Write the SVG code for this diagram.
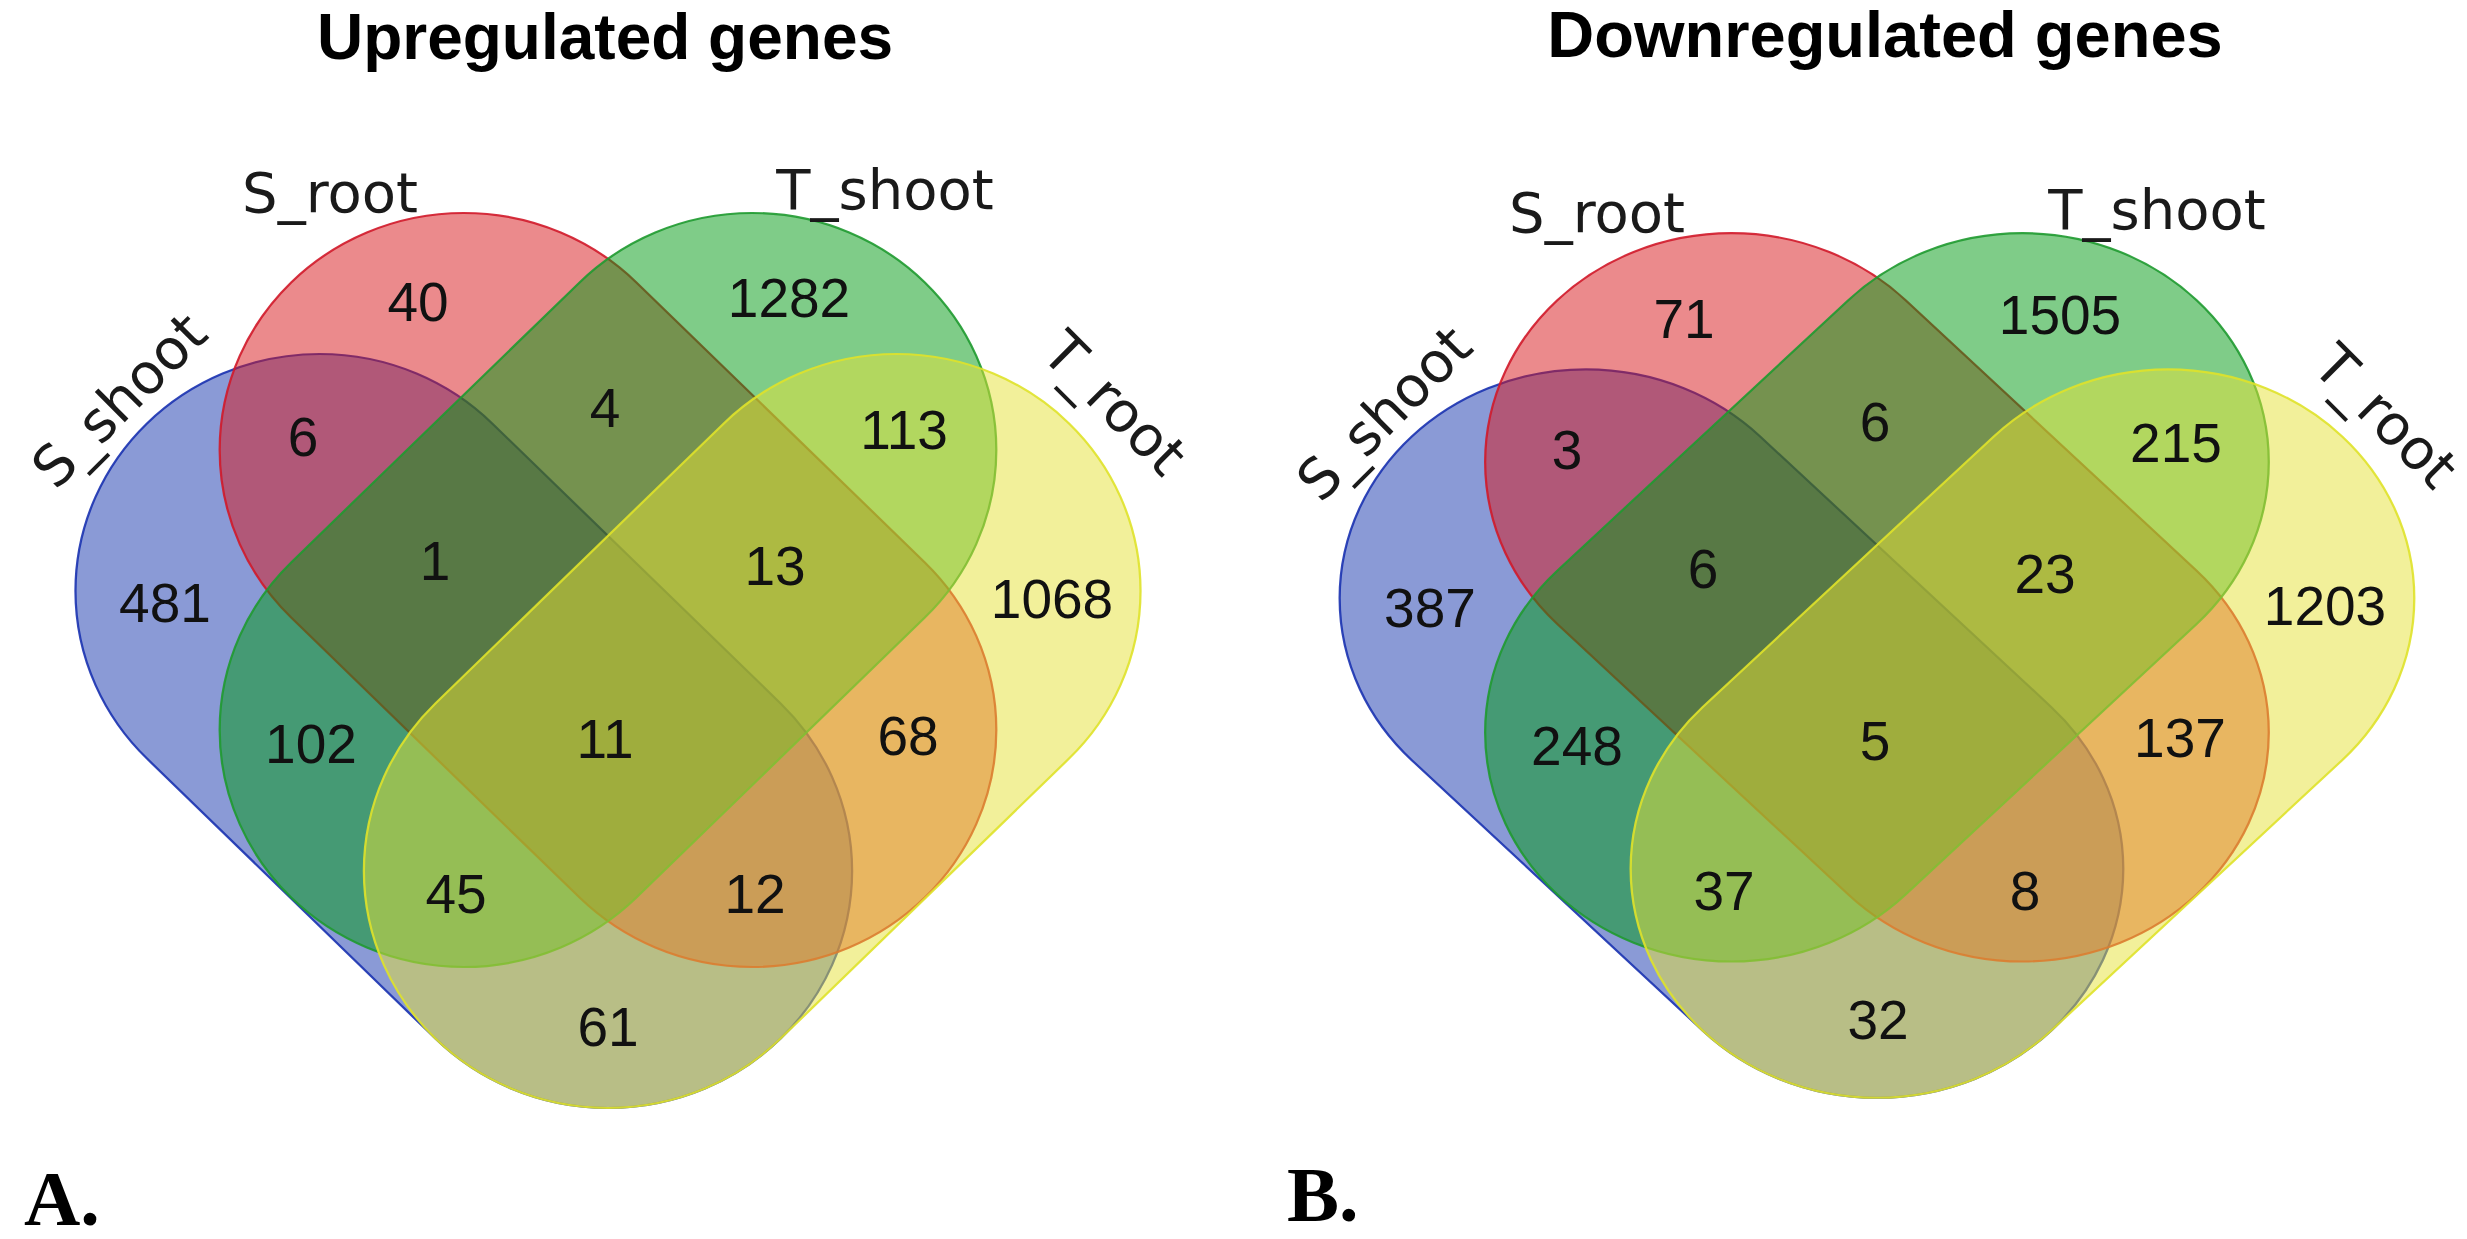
<svg xmlns="http://www.w3.org/2000/svg" xmlns:xlink="http://www.w3.org/1999/xlink" width="2467" height="1239" viewBox="0 0 2467 1239">
<style>
.title{font-family:"Liberation Sans",Arial,sans-serif;font-weight:bold;font-size:64px;fill:#000;text-anchor:middle}
.panel{font-family:"Liberation Serif","Times New Roman",serif;font-weight:bold;font-size:78px;fill:#000}
.set{font-family:"DejaVu Sans",Verdana,sans-serif;font-size:56px;fill:#1a1a1a;text-anchor:middle}
.num{font-family:"Liberation Sans",Arial,sans-serif;font-size:55px;fill:#111;text-anchor:middle}
.blue{fill:#1535ad;fill-opacity:0.5;stroke:#1a32b0;stroke-width:2.2;stroke-opacity:0.9}
.red{fill:#d71519;fill-opacity:0.5;stroke:#d01a2a;stroke-width:2.2;stroke-opacity:0.9}
.green{fill:#009911;fill-opacity:0.5;stroke:#1f9a30;stroke-width:2.2;stroke-opacity:0.9}
.yellow{fill:#e5e135;fill-opacity:0.5;stroke:#dfe22a;stroke-width:2.2;stroke-opacity:0.9}
</style>
<defs>
<rect id="stad" x="-435" y="-237" width="870" height="474" rx="237" ry="237"/>
</defs>
<rect width="2467" height="1239" fill="#fff"/>

<text class="title" x="605" y="59">Upregulated genes</text>
<text class="title" x="1885" y="57" style="font-size:65px">Downregulated genes</text>

<!-- Panel A -->
<g id="up-s-shoot">
<use xlink:href="#stad" class="blue" transform="translate(608 0) scale(1.03 1) translate(-140 731) rotate(45)"/>
<text class="set" transform="translate(133 414) rotate(-45)">S_shoot</text>
</g>
<g id="up-s-root">
<use xlink:href="#stad" class="red" transform="translate(608 0) scale(1.03 1) translate(0 590) rotate(45)"/>
<text class="set" x="330" y="212">S_root</text>
</g>
<g id="up-t-shoot">
<use xlink:href="#stad" class="green" transform="translate(608 0) scale(1.03 1) translate(0 590) rotate(-45)"/>
<text class="set" x="885" y="209">T_shoot</text>
</g>
<g id="up-t-root">
<use xlink:href="#stad" class="yellow" transform="translate(608 0) scale(1.03 1) translate(140 731) rotate(-45)"/>
<text class="set" transform="translate(1101 417) rotate(45)">T_root</text>
</g>
<g id="up-counts">
<text class="num" x="418" y="321">40</text>
<text class="num" x="789" y="317">1282</text>
<text class="num" x="303" y="456">6</text>
<text class="num" x="605" y="427">4</text>
<text class="num" x="904" y="449">113</text>
<text class="num" x="165" y="622">481</text>
<text class="num" x="435" y="580">1</text>
<text class="num" x="775" y="585">13</text>
<text class="num" x="1052" y="618">1068</text>
<text class="num" x="311" y="763">102</text>
<text class="num" x="605" y="758">11</text>
<text class="num" x="908" y="755">68</text>
<text class="num" x="456" y="913">45</text>
<text class="num" x="755" y="913">12</text>
<text class="num" x="608" y="1046">61</text>
</g>
<text class="panel" x="24" y="1225">A.</text>

<!-- Panel B -->
<g id="down-s-shoot">
<use xlink:href="#stad" class="blue" transform="matrix(1.009 0 0 0.966 1263.5 27.4) translate(608 0) scale(1.03 1) translate(-140 731) rotate(45)"/>
<text class="set" transform="translate(1398 427) rotate(-45)">S_shoot</text>
</g>
<g id="down-s-root">
<use xlink:href="#stad" class="red" transform="matrix(1.009 0 0 0.966 1263.5 27.4) translate(608 0) scale(1.03 1) translate(0 590) rotate(45)"/>
<text class="set" x="1597" y="232">S_root</text>
</g>
<g id="down-t-shoot">
<use xlink:href="#stad" class="green" transform="matrix(1.009 0 0 0.966 1263.5 27.4) translate(608 0) scale(1.03 1) translate(0 590) rotate(-45)"/>
<text class="set" x="2157" y="229">T_shoot</text>
</g>
<g id="down-t-root">
<use xlink:href="#stad" class="yellow" transform="matrix(1.009 0 0 0.966 1263.5 27.4) translate(608 0) scale(1.03 1) translate(140 731) rotate(-45)"/>
<text class="set" transform="translate(2372 430) rotate(45)">T_root</text>
</g>
<g id="down-counts">
<text class="num" x="1684" y="338">71</text>
<text class="num" x="2060" y="334">1505</text>
<text class="num" x="1567" y="469">3</text>
<text class="num" x="1875" y="441">6</text>
<text class="num" x="2176" y="462">215</text>
<text class="num" x="1430" y="627">387</text>
<text class="num" x="1703" y="588">6</text>
<text class="num" x="2045" y="593">23</text>
<text class="num" x="2325" y="625">1203</text>
<text class="num" x="1577" y="765">248</text>
<text class="num" x="1875" y="760">5</text>
<text class="num" x="2180" y="757">137</text>
<text class="num" x="1724" y="910">37</text>
<text class="num" x="2025" y="910">8</text>
<text class="num" x="1878" y="1039">32</text>
</g>
<text class="panel" x="1287" y="1221">B.</text>

<g id="connectors"/>
</svg>
